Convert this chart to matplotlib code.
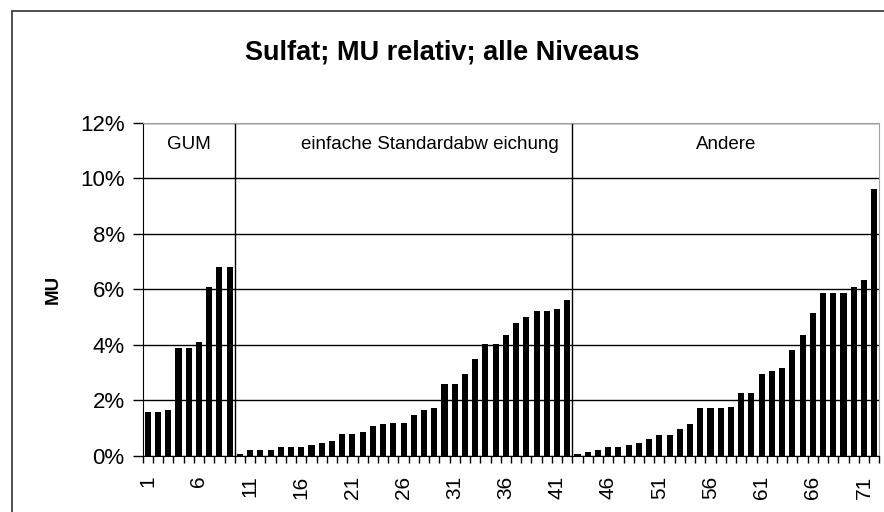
import matplotlib
matplotlib.use("Agg")
import matplotlib.pyplot as plt
from matplotlib.patches import Rectangle
from matplotlib.ticker import FixedLocator, PercentFormatter

plt.rcParams['font.family'] = ['Liberation Sans', 'DejaVu Sans']

# relative measurement uncertainty (%) per lab, sorted within groups
gum = [1.59, 1.59, 1.66, 3.89, 3.89, 4.09, 6.08, 6.80, 6.80]
einfach = [0.08, 0.21, 0.21, 0.21, 0.33, 0.33, 0.33, 0.41, 0.47, 0.54,
           0.79, 0.79, 0.86, 1.08, 1.14, 1.20, 1.20, 1.46, 1.66, 1.73,
           2.59, 2.59, 2.97, 3.51, 4.03, 4.03, 4.36, 4.78, 5.02, 5.22,
           5.22, 5.29, 5.61]
andere = [0.07, 0.14, 0.21, 0.33, 0.33, 0.41, 0.47, 0.61, 0.74, 0.74,
          0.99, 1.14, 1.73, 1.73, 1.73, 1.78, 2.26, 2.26, 2.97, 3.05,
          3.18, 3.83, 4.36, 5.16, 5.86, 5.86, 5.86, 6.08, 6.32, 9.63]
group_names = ["GUM", "einfache Standardabw eichung", "Andere"]
title = "Sulfat; MU relativ; alle Niveaus"

values = gum + einfach + andere
labs = list(range(1, len(values) + 1))

fig = plt.figure(figsize=(8.84, 5.12), dpi=100)
ax = fig.add_axes([142.7 / 884, 1 - 456 / 512, (879.3 - 142.7) / 884, (456 - 122.7) / 512])

# outer chart frame (only top and left edges fall inside the picture)
fig.patches.append(Rectangle((12 / 884, -0.1), 1.2, 1.1 - 11 / 512,
                             transform=fig.transFigure, fill=False,
                             edgecolor="#303030", linewidth=1.2))

ax.bar(labs, values, width=0.6, color="black", zorder=3)

ax.set_xlim(0.5, len(values) + 0.5)
ax.set_ylim(0, 12)
ax.yaxis.set_major_locator(FixedLocator([0, 2, 4, 6, 8, 10, 12]))
ax.yaxis.set_major_formatter(PercentFormatter(decimals=0))
ax.grid(axis="y", color="black", linewidth=1, zorder=1)

# group separators
b1 = len(gum) + 0.5
b2 = len(gum) + len(einfach) + 0.5
for b in (b1, b2):
    ax.axvline(b, color="black", linewidth=1, zorder=2)

# group labels
ax.text((0.5 + b1) / 2, 11.2, group_names[0], ha="center", va="center", fontsize=13.5)
ax.text(28.6, 11.2, group_names[1], ha="center", va="center", fontsize=13.5)
ax.text((b2 + len(values) + 0.5) / 2, 11.2, group_names[2], ha="center", va="center", fontsize=13.5)

# x ticks: marks between categories, labels every 5th lab
ax.set_xticks(labs[::5])
ax.set_xticklabels([str(v) for v in labs[::5]], rotation=90, fontsize=15)
ax.tick_params(axis="x", which="major", length=0, pad=14)
ax.set_xticks([v + 0.5 for v in labs] + [0.5], minor=True)
ax.tick_params(axis="x", which="minor", length=5, width=1, direction="out")
ax.tick_params(axis="y", length=7, width=1, direction="out", labelsize=16, pad=6)

for s in ("top", "right"):
    ax.spines[s].set_color("#a0a0a0")
for s in ("left", "bottom"):
    ax.spines[s].set_color("black")

ax.set_ylabel("MU", fontsize=13.5, fontweight="bold")
ax.yaxis.set_label_coords(-0.110, 0.5)
fig.text(0.5, 1 - 52 / 512, title, ha="center", va="center", fontsize=19.5, fontweight="bold")

plt.savefig("out.png", dpi=100)
